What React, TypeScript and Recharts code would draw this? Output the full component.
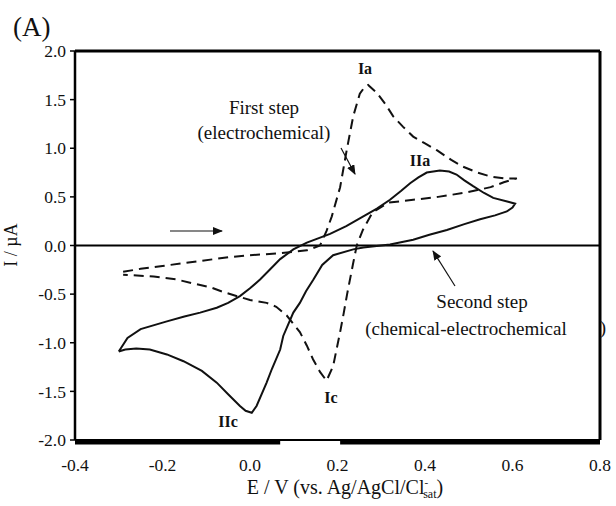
import React from 'react';
import { LineChart, Line, XAxis, YAxis, ReferenceLine, ReferenceArea } from 'recharts';

const xTicks = [-0.4, -0.2, 0.0, 0.2, 0.4, 0.6, 0.8];
const yTicks = [-2.0, -1.5, -1.0, -0.5, 0.0, 0.5, 1.0, 1.5, 2.0];

// First step (electrochemical) – dashed loop
const firstStepE = [-0.29, -0.25, -0.2, -0.114, -0.05, 0.0, 0.069, 0.13, 0.16, 0.175, 0.187, 0.206, 0.221, 0.236, 0.251, 0.262, 0.27, 0.29, 0.31, 0.327, 0.35, 0.373, 0.4, 0.427, 0.46, 0.487, 0.52, 0.549, 0.58, 0.61, 0.58, 0.55, 0.52, 0.487, 0.43, 0.373, 0.316, 0.28, 0.258, 0.244, 0.235, 0.222, 0.214, 0.206, 0.19, 0.175, 0.16, 0.144, 0.13, 0.114, 0.084, 0.06, 0.038, 0.0, -0.023, -0.06, -0.09, -0.13, -0.167, -0.22, -0.29];
const firstStepI = [-0.27, -0.24, -0.21, -0.16, -0.12, -0.1, -0.08, -0.05, 0.0, 0.15, 0.3, 0.6, 0.98, 1.33, 1.56, 1.63, 1.65, 1.57, 1.45, 1.33, 1.22, 1.12, 1.05, 0.98, 0.88, 0.81, 0.75, 0.71, 0.69, 0.69, 0.65, 0.6, 0.57, 0.54, 0.5, 0.47, 0.44, 0.34, 0.16, 0.0, -0.2, -0.5, -0.7, -0.89, -1.24, -1.39, -1.3, -1.17, -1.03, -0.89, -0.72, -0.63, -0.59, -0.56, -0.53, -0.48, -0.43, -0.39, -0.35, -0.32, -0.3];

// Second step (chemical-electrochemical) – solid loop
const secondStepE = [-0.3, -0.28, -0.25, -0.19, -0.15, -0.114, -0.076, -0.05, -0.023, 0.0, 0.023, 0.045, 0.069, 0.099, 0.13, 0.183, 0.22, 0.259, 0.29, 0.32, 0.345, 0.366, 0.385, 0.404, 0.434, 0.455, 0.472, 0.49, 0.51, 0.535, 0.556, 0.59, 0.606, 0.6, 0.587, 0.56, 0.526, 0.49, 0.45, 0.41, 0.373, 0.32, 0.259, 0.236, 0.19, 0.165, 0.145, 0.128, 0.114, 0.099, 0.076, 0.069, 0.05, 0.038, 0.015, 0.004, -0.01, -0.023, -0.05, -0.076, -0.11, -0.152, -0.19, -0.229, -0.26, -0.285, -0.3];
const secondStepI = [-1.09, -0.95, -0.86, -0.78, -0.73, -0.69, -0.64, -0.59, -0.52, -0.44, -0.35, -0.25, -0.14, -0.04, 0.03, 0.12, 0.2, 0.3, 0.38, 0.47, 0.56, 0.64, 0.7, 0.75, 0.77, 0.76, 0.73, 0.67, 0.61, 0.54, 0.49, 0.45, 0.43, 0.39, 0.35, 0.31, 0.27, 0.22, 0.16, 0.11, 0.06, 0.01, -0.02, -0.04, -0.1, -0.2, -0.35, -0.47, -0.59, -0.69, -0.93, -1.07, -1.27, -1.41, -1.65, -1.72, -1.7, -1.65, -1.53, -1.41, -1.29, -1.19, -1.12, -1.07, -1.06, -1.07, -1.09];

const firstStep = firstStepE.map((E, i) => ({ E, I: firstStepI[i] }));
const secondStep = secondStepE.map((E, i) => ({ E, I: secondStepI[i] }));

const FONT = '"Liberation Serif", "Times New Roman", serif';

export default function App() {
  return (
    <div style={{ position: 'absolute', left: 0, top: 0, width: 616, height: 506, background: '#fff' }}>
      <LineChart width={616} height={506} margin={{ top: 51, right: 16, bottom: 36, left: 30 }}>
        <XAxis
          type="number"
          dataKey="E"
          domain={[-0.4, 0.8]}
          ticks={xTicks}
          allowDataOverflow
          tickFormatter={(v: number) => v.toFixed(1)}
          axisLine={{ stroke: '#000', strokeWidth: 2 }}
          tickLine={false}
          tickMargin={13}
          height={30}
          tick={{ fill: '#111', fontSize: 17.5, fontFamily: FONT }}
        />
        <YAxis
          type="number"
          dataKey="I"
          domain={[-2, 2]}
          ticks={yTicks}
          allowDataOverflow
          tickFormatter={(v: number) => v.toFixed(1)}
          axisLine={{ stroke: '#000', strokeWidth: 2.5 }}
          tickLine={{ stroke: '#000', strokeWidth: 1.5 }}
          tickSize={5}
          tickMargin={4}
          width={45}
          tick={{ fill: '#111', fontSize: 17.5, fontFamily: FONT }}
        />
        <ReferenceLine y={2} stroke="#000" strokeWidth={3} />
        <ReferenceLine x={0.8} stroke="#000" strokeWidth={3} />
        <ReferenceLine y={0} stroke="#000" strokeWidth={2} />
        <ReferenceArea x1={-0.4} x2={0.069} y1={-2.045} y2={-2.0} fill="#000" fillOpacity={1} stroke="none" ifOverflow="visible" />
        <ReferenceArea x1={0.206} x2={0.8} y1={-2.045} y2={-2.0} fill="#000" fillOpacity={1} stroke="none" ifOverflow="visible" />
        <Line data={firstStep} dataKey="I" type="linear" stroke="#111" strokeWidth={2} strokeDasharray="10 6" dot={false} isAnimationActive={false} />
        <Line data={secondStep} dataKey="I" type="linear" stroke="#111" strokeWidth={2} dot={false} isAnimationActive={false} />
      </LineChart>
      <svg width={616} height={506} style={{ position: 'absolute', left: 0, top: 0, pointerEvents: 'none' }} fontFamily={FONT}>
        <defs>
          <marker id="ah" markerWidth="10" markerHeight="8" refX="9" refY="4" orient="auto" markerUnits="userSpaceOnUse">
            <path d="M0,0 L10,4 L0,8 Z" fill="#111" />
          </marker>
        </defs>
        <text x={13} y={36} fontSize={27} fill="#111">(A)</text>
        <text x={17} y={245} fontSize={18} fill="#111" textAnchor="middle" transform="rotate(-90 17 245)">I / µA</text>
        <text x={345} y={494} fontSize={20} fill="#111" textAnchor="middle">
          E / V (vs. Ag/AgCl/Cl
          <tspan fontSize={11} dy={-8}>-</tspan>
          <tspan fontSize={12} dx={-5} dy={12}>sat</tspan>
          <tspan dy={-4}>)</tspan>
        </text>
        <text x={264} y={114} fontSize={19} fill="#111" textAnchor="middle">First step</text>
        <text x={264} y={139} fontSize={19} fill="#111" textAnchor="middle">(electrochemical)</text>
        <line x1={341} y1={148} x2={355} y2={174} stroke="#111" strokeWidth={1.2} markerEnd="url(#ah)" />
        <text x={482} y={308} fontSize={19} fill="#111" textAnchor="middle">Second step</text>
        <text x={466} y={335} fontSize={19} fill="#111" textAnchor="middle">(chemical-electrochemical</text>
        <text x={603} y={334} fontSize={19} fill="#111" textAnchor="middle">)</text>
        <line x1={455} y1={286} x2={433} y2={251} stroke="#111" strokeWidth={1.2} markerEnd="url(#ah)" />
        <line x1={170} y1={231} x2={222} y2={231} stroke="#111" strokeWidth={1.2} markerEnd="url(#ah)" />
        <text x={365} y={74} fontSize={16} fontWeight="bold" fill="#111" textAnchor="middle">Ia</text>
        <text x={420} y={166} fontSize={16} fontWeight="bold" fill="#111" textAnchor="middle">IIa</text>
        <text x={331} y={403} fontSize={16} fontWeight="bold" fill="#111" textAnchor="middle">Ic</text>
        <text x={228} y={427} fontSize={16} fontWeight="bold" fill="#111" textAnchor="middle">IIc</text>
      </svg>
    </div>
  );
}
